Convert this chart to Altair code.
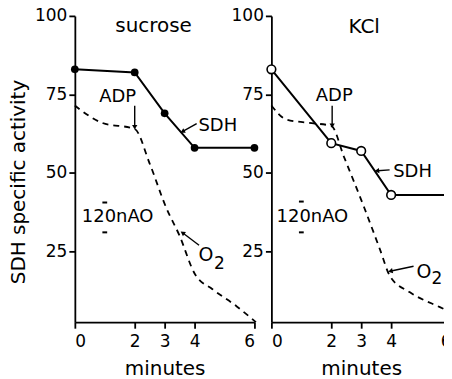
import altair as alt
import pandas as pd

# ---- data ----
sdh_minutes = [0, 2, 3, 4, 6]
sdh_sucrose = [83, 82, 69, 58, 58]
sdh_kcl = [83, 59.5, 57, 43, 43]

o2_sucrose_min = [0, 0.2, 0.9, 2, 2.5, 3.05, 3.5, 4, 4.6, 5.4, 6.05]
o2_sucrose = [71.5, 70, 66, 64, 53, 39, 30, 18, 13, 7.6, 2.5]

o2_kcl_min = [0, 0.5, 1.2, 2, 2.43, 3.1, 3.63, 3.97, 4.63, 5.63, 6]
o2_kcl = [71.5, 67, 66, 65, 55, 39, 25.6, 17, 12, 7.3, 5.7]

x_ticks = [0, 2, 3, 4, 6]
y_ticks = [25, 50, 75, 100]

# annotation texts (label, x, y, size, align)
suc_texts = [("sucrose", 2.63, 96.8, 20, "center"), ("ADP", 1.43, 74.3, 18, "center"),
             ("SDH", 4.13, 65.0, 18, "left"), ("O", 4.38, 24.0, 19, "center"),
             ("2", 4.83, 21.0, 17, "center"), ("120nAO", 1.43, 35.9, 18, "center")]
kcl_texts = [("KCl", 3.1, 96.5, 20, "center"), ("ADP", 2.1, 74.6, 18, "center"),
             ("SDH", 4.07, 50.2, 18, "left"), ("O", 5.1, 18.4, 19, "center"),
             ("2", 5.53, 16.2, 17, "center"), ("120nAO", 1.37, 35.9, 18, "center")]

# arrows: x, y (start), x2, y2 (tip), angle of head
suc_arrows = [(2.0, 71.4, 2.0, 64.8, 180), (4.07, 65.7, 3.62, 63.3, 242), (4.15, 27.0, 3.62, 30.8, 305)]
kcl_arrows = [(2.03, 71.4, 2.03, 65.3, 180), (3.95, 51.0, 3.55, 50.7, 265), (4.75, 20.3, 4.0, 18.8, 258)]

# scale-bar dashes of the "120nAO" marker
suc_bar = [(0.92, 1.08, 40.6), (0.92, 1.08, 31.1)]
kcl_bar = [(0.92, 1.08, 40.9), (0.92, 1.08, 31.1)]

FONT = "DejaVu Sans"
W, H = 180, 307


def panel(sdh_vals, o2_x, o2_y, filled, texts, arrows, bars, show_title):
    xs = alt.Scale(domain=[0, 6], nice=False, zero=False)
    ys = alt.Scale(domain=[2.5, 100], nice=False, zero=False)
    xax = alt.Axis(values=x_ticks, format="d", tickSize=6, tickWidth=1.8, domainWidth=1.8,
                   domainColor="black", tickColor="black", labelColor="black",
                   labelFontSize=17, labelFont=FONT, labelPadding=5,
                   titleFontSize=20, titleFont=FONT, titleFontWeight="normal",
                   titleColor="black", titleBaseline="alphabetic", titleY=52, grid=False)
    if show_title:
        yax = alt.Axis(values=y_ticks, tickSize=6, tickWidth=1.8, domainWidth=1.8,
                       domainColor="black", tickColor="black", labelColor="black",
                       labelFontSize=17, labelFont=FONT, labelPadding=2,
                       titleFontSize=20, titleFont=FONT, titleFontWeight="normal",
                       titleColor="black", titlePadding=6, grid=False, titleY=166)
        ytitle = "SDH specific activity"
    else:
        yax = alt.Axis(values=y_ticks, tickSize=6, tickWidth=1.8, domainWidth=1.8,
                       domainColor="black", tickColor="black", labelColor="black",
                       labelFontSize=17, labelFont=FONT, labelPadding=2, grid=False)
        ytitle = None

    sdh_df = pd.DataFrame({"m": sdh_minutes, "v": sdh_vals})
    o2_df = pd.DataFrame({"m": o2_x, "v": o2_y})

    base_x = alt.X("m:Q", scale=xs, axis=xax, title="minutes")
    base_y = alt.Y("v:Q", scale=ys, axis=yax, title=ytitle)

    o2 = alt.Chart(o2_df).mark_line(color="black", strokeWidth=1.8, strokeDash=[6, 5],
                                     interpolate="monotone").encode(x=base_x, y=base_y)
    sdh = alt.Chart(sdh_df).mark_line(color="black", strokeWidth=2).encode(
        x=alt.X("m:Q", scale=xs), y=alt.Y("v:Q", scale=ys))
    if filled:
        pts = alt.Chart(sdh_df).mark_point(shape="circle", filled=True, color="black",
                                            size=60, opacity=1)
    else:
        pts = alt.Chart(sdh_df).mark_point(shape="circle", filled=True, fill="white",
                                            stroke="black", strokeWidth=1.6, size=75, opacity=1)
    pts = pts.encode(x=alt.X("m:Q", scale=xs), y=alt.Y("v:Q", scale=ys))

    tdf = pd.DataFrame(texts, columns=["t", "m", "v", "s", "a"])
    layers = [o2, sdh, pts]
    for align in ["center", "left"]:
        for size in sorted(tdf["s"].unique()):
            sub = tdf[(tdf["a"] == align) & (tdf["s"] == size)]
            if len(sub) == 0:
                continue
            layers.append(alt.Chart(sub).mark_text(font=FONT, fontSize=int(size), color="black",
                                                   align=align, baseline="middle").encode(
                x=alt.X("m:Q", scale=xs), y=alt.Y("v:Q", scale=ys), text="t:N"))

    adf = pd.DataFrame(arrows, columns=["m", "v", "m2", "v2", "ang"])
    layers.append(alt.Chart(adf).mark_rule(color="black", strokeWidth=1.4).encode(
        x=alt.X("m:Q", scale=xs), y=alt.Y("v:Q", scale=ys), x2="m2:Q", y2="v2:Q"))
    layers.append(alt.Chart(adf).mark_point(shape="triangle", filled=True, color="black",
                                            size=28, opacity=1).encode(
        x=alt.X("m2:Q", scale=xs), y=alt.Y("v2:Q", scale=ys),
        angle=alt.Angle("ang:Q", scale=None)))

    bdf = pd.DataFrame(bars, columns=["m", "m2", "v"])
    layers.append(alt.Chart(bdf).mark_rule(color="black", strokeWidth=2).encode(
        x=alt.X("m:Q", scale=xs), x2="m2:Q", y=alt.Y("v:Q", scale=ys)))

    return alt.layer(*layers).properties(width=W, height=H)


left = panel(sdh_sucrose, o2_sucrose_min, o2_sucrose, True, suc_texts, suc_arrows, suc_bar, True)
right = panel(sdh_kcl, o2_kcl_min, o2_kcl, False, kcl_texts, kcl_arrows, kcl_bar, False)

chart = alt.hconcat(left, right, spacing=17, bounds="flush").resolve_scale(
    x="independent", y="independent"
).properties(
    padding={"left": 0, "top": -1.5, "right": -15, "bottom": -3},
    background="white"
).configure_view(strokeWidth=0, stroke="transparent").configure_axis(grid=False)

chart.save("out.html", embed_options={"renderer": "svg", "actions": False})
